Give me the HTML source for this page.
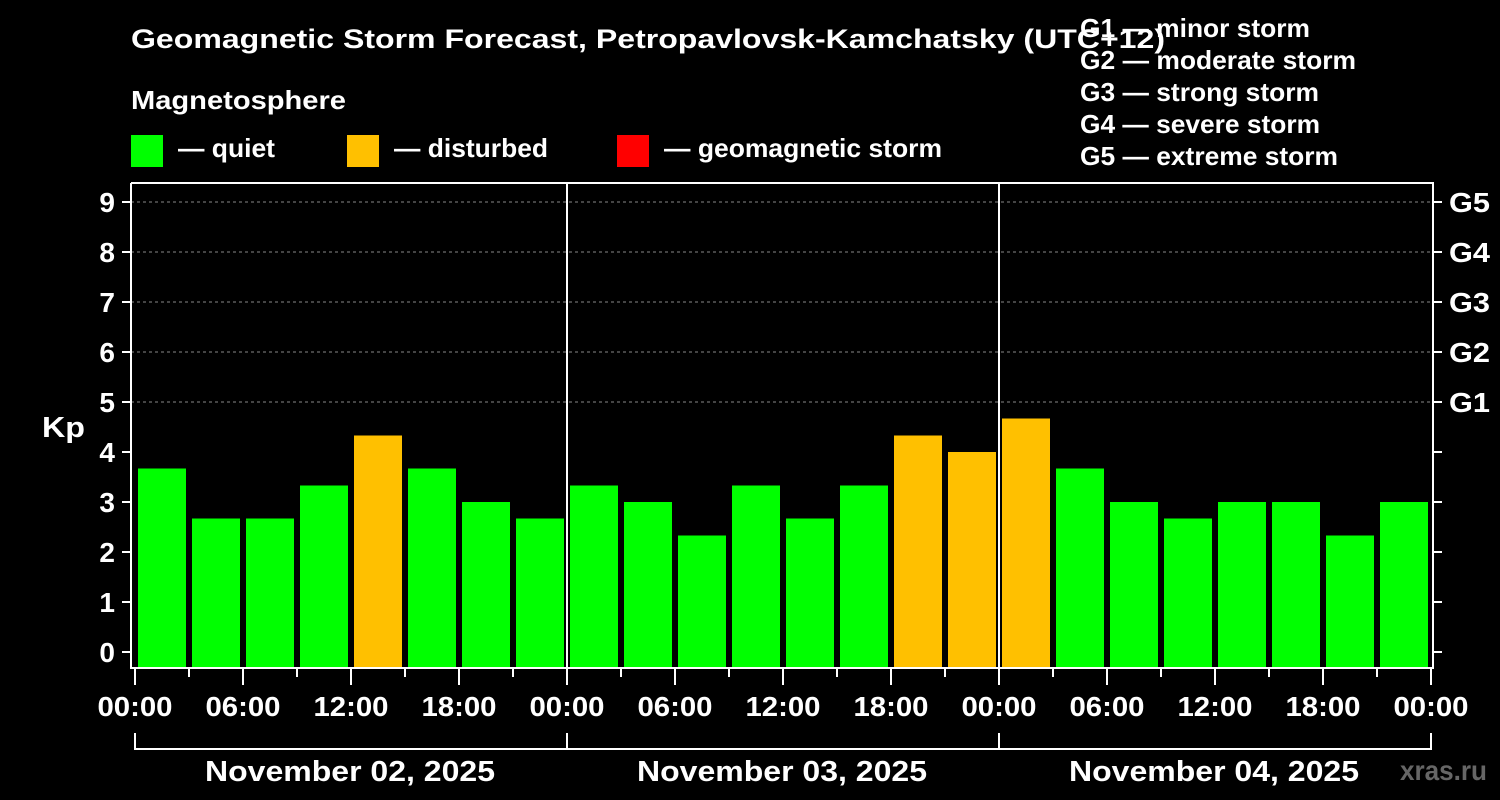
<!DOCTYPE html>
<html><head><meta charset="utf-8"><style>
html,body{margin:0;padding:0;background:#000;}
svg{display:block;font-family:"Liberation Sans",Arial,sans-serif;font-weight:bold;}
</style></head><body>
<svg id="chart" width="1500" height="800" viewBox="0 0 1500 800">
<rect width="1500" height="800" fill="#000"/>
<text x="131" y="48" fill="#fff" font-size="27" textLength="1034" lengthAdjust="spacingAndGlyphs">Geomagnetic Storm Forecast, Petropavlovsk-Kamchatsky (UTC+12)</text>
<text x="131" y="109" fill="#fff" font-size="26" textLength="215" lengthAdjust="spacingAndGlyphs">Magnetosphere</text>
<g><rect x="131" y="135" width="32" height="32" fill="#00ff00"/><text x="178" y="157" fill="#fff" font-size="26" textLength="97" lengthAdjust="spacingAndGlyphs">— quiet</text></g>
<g><rect x="347" y="135" width="32" height="32" fill="#ffc000"/><text x="394" y="157" fill="#fff" font-size="26" textLength="154" lengthAdjust="spacingAndGlyphs">— disturbed</text></g>
<g><rect x="617" y="135" width="32" height="32" fill="#ff0000"/><text x="664" y="157" fill="#fff" font-size="26" textLength="278" lengthAdjust="spacingAndGlyphs">— geomagnetic storm</text></g>
<g fill="#fff" font-size="26">
<text x="1080" y="37" textLength="230" lengthAdjust="spacingAndGlyphs">G1 — minor storm</text>
<text x="1080" y="69" textLength="276" lengthAdjust="spacingAndGlyphs">G2 — moderate storm</text>
<text x="1080" y="101" textLength="239" lengthAdjust="spacingAndGlyphs">G3 — strong storm</text>
<text x="1080" y="133" textLength="240" lengthAdjust="spacingAndGlyphs">G4 — severe storm</text>
<text x="1080" y="165" textLength="258" lengthAdjust="spacingAndGlyphs">G5 — extreme storm</text>
</g>
<text x="42" y="437" fill="#fff" font-size="29" textLength="43" lengthAdjust="spacingAndGlyphs">Kp</text>
<text x="1400" y="780" fill="#666" font-size="28" textLength="87" lengthAdjust="spacingAndGlyphs">xras.ru</text>
<g id="grid"></g><g id="bars"></g><g id="axes"></g>
</svg>
<script>
const kpValues = [3.67,2.67,2.67,3.33,4.33,3.67,3.0,2.67, 3.33,3.0,2.33,3.33,2.67,3.33,4.33,4.0, 4.67,3.67,3.0,2.67,3.0,3.0,2.33,3.0];
const dayLabels = ["November 02, 2025","November 03, 2025","November 04, 2025"];
const hourLabels = ["00:00","06:00","12:00","18:00"];
const yTicks = [0,1,2,3,4,5,6,7,8,9];
const gLabels = ["G1","G2","G3","G4","G5"];
const gLevels = [5,6,7,8,9];

const NS="http://www.w3.org/2000/svg";
const X0=135, slot=54, PL=131, PR=1433, PT=183, PB=668;
const y = v => 652 - v*50;
const x = i => X0 + i*slot;
function mk(tag, attrs, parent, txt){const e=document.createElementNS(NS,tag);for(const k in attrs)e.setAttribute(k,attrs[k]);if(txt!==undefined)e.textContent=txt;parent.appendChild(e);return e;}
const grid=document.getElementById('grid'), bars=document.getElementById('bars'), axes=document.getElementById('axes');
gLevels.forEach((g,i)=>{
  const l=mk('line',{x1:PL,x2:PR,y1:y(g),y2:y(g),stroke:'#888','stroke-dasharray':'3,3','stroke-width':1},grid);
  
  
  const t=mk('text',{x:1449,y:y(g)+10,fill:'#fff','font-size':28,textLength:41,lengthAdjust:'spacingAndGlyphs'},axes,gLabels[i]);
  
  
});
kpValues.forEach((v,i)=>{
  const c = v>=5?'#ff0000':(v>=4?'#ffc000':'#00ff00');
  const r=mk('rect',{x:x(i)+3,y:y(v),width:48,height:PB-y(v),fill:c},bars);
  
  
});
const fr=mk('path',{d:`M${PL} ${PT}V${PB}H${PR}V${PT}H${PL}`,stroke:'#fff','stroke-width':2,fill:'none'},axes);


[1,2].forEach(d=>{
  const l=mk('line',{x1:X0+d*432,x2:X0+d*432,y1:PT,y2:PB,stroke:'#fff','stroke-width':2},axes);
  
  
});
yTicks.forEach(v=>{
  mk('line',{x1:122,x2:PL,y1:y(v),y2:y(v),stroke:'#fff','stroke-width':2},axes);
  mk('line',{x1:PR,x2:1442,y1:y(v),y2:y(v),stroke:'#fff','stroke-width':2},axes);
  const t=mk('text',{x:115,y:y(v)+10,fill:'#fff','font-size':28,'text-anchor':'end'},axes,String(v));
  
  
});
for(let i=0;i<=kpValues.length;i++){
  const major=i%2===0;
  mk('line',{x1:x(i),x2:x(i),y1:PB,y2:major?685:677,stroke:'#fff','stroke-width':2},axes);
  if(major){
    const t=mk('text',{x:x(i),y:716,fill:'#fff','font-size':28,'text-anchor':'middle',textLength:75,lengthAdjust:'spacingAndGlyphs'},axes,hourLabels[(i/2)%4]);
    
    
  }
}
const br=mk('path',{d:`M${X0} 733V749H${X0+1296}V733`,stroke:'#fff','stroke-width':2,fill:'none'},axes);


dayLabels.forEach((d,i)=>{
  mk('line',{x1:X0+i*432,x2:X0+i*432,y1:733,y2:749,stroke:'#fff','stroke-width':2},axes);
  const t=mk('text',{x:X0+i*432+215,y:781,fill:'#fff','font-size':29,'text-anchor':'middle',textLength:290,lengthAdjust:'spacingAndGlyphs'},axes,d);
  
  
});
</script>
</body></html>
